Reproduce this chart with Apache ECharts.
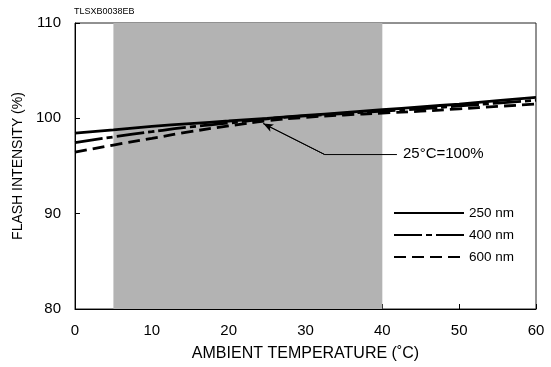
<!DOCTYPE html>
<html><head><meta charset="utf-8">
<script src="https://cdn.jsdelivr.net/npm/echarts@6/dist/echarts.min.js"></script>
<style>html,body{margin:0;padding:0;background:#fff}#c{width:551px;height:367px}</style>
</head><body><div id="c"></div>
<script>
const temps = [0, 5, 10, 15, 20, 25, 30, 35, 40, 45, 50, 55, 60];
const nm250 = [98.45, 98.8, 99.15, 99.45, 99.72, 100.0, 100.3, 100.6, 100.9, 101.2, 101.5, 101.85, 102.2];
const nm400 = [97.45, 98.05, 98.6, 99.1, 99.5, 99.95, 100.25, 100.5, 100.75, 101.0, 101.3, 101.6, 101.9];
const nm600 = [96.45, 97.2, 97.9, 98.6, 99.2, 99.75, 100.1, 100.35, 100.55, 100.75, 101.0, 101.25, 101.5];
const seriesNames = ['250 nm', '400 nm', '600 nm'];
const guaranteedRange = [5, 40];
const annotationPath = [[24.5, 99.45], [32.5, 96.2], [41.9, 96.2]];
const annotationText = '25°C=100%';
const xTicks = [0, 10, 20, 30, 40, 50, 60];
const yTicks = [80, 90, 100, 110];

const chart = echarts.init(document.getElementById('c'));
const font = 'Liberation Sans, Arial, sans-serif';
function pairs(v){ return temps.map((t,i)=>[t, v[i]]); }
const lineW = 2.8;
chart.setOption({
  animation: false,
  grid: {left: 75, right: 15, top: 23, bottom: 55, show: true, borderColor: '#222', borderWidth: 1},
  xAxis: {
    type: 'value', min: 0, max: 60, interval: 10,
    name: 'AMBIENT TEMPERATURE (˚C)', nameLocation: 'middle', nameGap: 37,
    nameTextStyle: {fontFamily: font, fontSize: 16, color: '#000'},
    axisLine: {lineStyle: {color: '#000', width: 1}},
    axisTick: {inside: true, length: 5, lineStyle: {color: '#000'}},
    axisLabel: {fontFamily: font, fontSize: 15, color: '#000', margin: 14},
    splitLine: {show: false}
  },
  yAxis: {
    type: 'value', min: 80, max: 110, interval: 10,
    name: 'FLASH INTENSITY (%)', nameLocation: 'middle', nameGap: 46, nameRotate: 90,
    nameTextStyle: {fontFamily: font, fontSize: 14, color: '#000'},
    axisLine: {show: true, lineStyle: {color: '#000', width: 1}},
    axisTick: {inside: true, length: 5, lineStyle: {color: '#000'}},
    axisLabel: {fontFamily: font, fontSize: 15, color: '#000', margin: 14},
    splitLine: {show: false}
  },
  legend: {
    data: seriesNames, orient: 'vertical', left: 388, top: 201,
    itemWidth: 70, itemHeight: 14, itemGap: 8,
    itemStyle: {color: 'rgba(0,0,0,0)', borderWidth: 0},
    textStyle: {fontFamily: font, fontSize: 13.5, color: '#000'},
    backgroundColor: 'transparent'
  },
  graphic: [
    {type: 'text', left: 74, top: 7, style: {text: 'TLSXB0038EB', font: '9px ' + font, fill: '#000'}},
    {type: 'text', left: 219, top: 248, style: {text: 'GUARANTEED\nCHARACTERISTICS RANGE', font: '11px ' + font, fill: '#000', textAlign: 'center', lineHeight: 15}},
    {type: 'text', left: 403, top: 146, style: {text: annotationText, font: '15px ' + font, fill: '#000'}}
  ],
  series: [
    {name: 'range', type: 'line', data: [], silent: true, z: 0,
     markArea: {silent: true, itemStyle: {color: '#b3b3b3'}, data: [[{xAxis: guaranteedRange[0]}, {xAxis: guaranteedRange[1]}]]}},
    {name: seriesNames[0], type: 'line', smooth: true, symbol: 'none', data: pairs(nm250), z: 3,
     lineStyle: {color: '#000', width: lineW, type: 'solid'}, itemStyle: {color: '#000'}},
    {name: seriesNames[1], type: 'line', smooth: true, symbol: 'none', data: pairs(nm400), z: 3,
     lineStyle: {color: '#000', width: lineW, type: [28, 4, 6, 4]}, itemStyle: {color: '#000'}},
    {name: seriesNames[2], type: 'line', smooth: true, symbol: 'none', data: pairs(nm600), z: 3,
     lineStyle: {color: '#000', width: lineW, type: [12, 6]}, itemStyle: {color: '#000'}},
    {name: 'annot', type: 'line', symbol: 'none', data: annotationPath, z: 4, silent: true,
     lineStyle: {color: '#000', width: 1}, itemStyle: {color: '#000'},
     markLine: {silent: true, symbol: ['none', 'arrow'], symbolSize: [6, 10], lineStyle: {color: '#000', width: 1, type: 'solid'},
       label: {show: false},
       data: [[{coord: annotationPath[1]}, {coord: annotationPath[0]}]]}}
  ]
});
</script></body></html>
